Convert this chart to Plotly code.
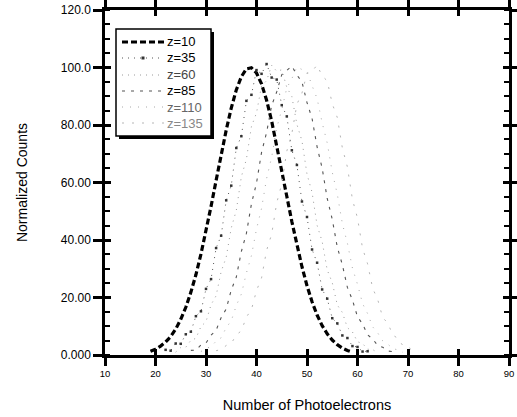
import plotly.graph_objects as go

# ---------------- data ----------------
series_names = ["z=10", "z=35", "z=60", "z=85", "z=110", "z=135"]

x_z10 = list(range(19, 60))
y_z10 = [1.3, 2.0, 3.1, 4.5, 6.4, 9.0, 12.4, 16.6, 21.8, 27.9, 35.1, 43.0, 51.7, 60.7, 69.6,
         78.2, 85.9, 92.2, 96.8, 99.5, 99.9, 98.1, 94.3, 88.6, 81.4, 73.1, 64.3, 55.2, 46.4,
         38.2, 30.7, 24.1, 18.5, 13.9, 10.2, 7.4, 5.2, 3.6, 2.4, 1.6, 1.0]

x_z35 = list(range(22, 63))
y_z35 = [1.8, 1.5, 4.0, 3.9, 7.2, 8.1, 13.5, 15.2, 23.0, 26.4, 37.2, 41.5, 53.8, 58.9, 72.0,
         76.1, 88.4, 90.5, 99.1, 97.8, 101.2, 96.5, 95.8, 86.9, 83.0, 71.2, 66.1, 53.4, 48.0,
         36.7, 32.1, 22.8, 19.6, 12.8, 11.0, 6.8, 5.9, 3.1, 2.8, 1.2, 1.3]

x_z60 = list(range(24, 65))
y_z60 = [1.0, 2.6, 2.7, 5.1, 5.8, 9.9, 11.6, 17.5, 20.6, 29.0, 34.0, 44.2, 50.3, 62.0, 68.1,
         79.5, 84.2, 93.6, 95.4, 100.8, 98.7, 99.2, 93.1, 89.9, 80.2, 74.5, 62.9, 56.6, 45.1,
         39.5, 29.6, 25.2, 17.4, 14.8, 9.5, 8.0, 4.6, 4.0, 2.0, 1.9, 0.8]

x_z85 = list(range(27, 68))
y_z85 = [1.6, 1.7, 3.5, 4.2, 6.9, 8.6, 13.0, 16.0, 22.6, 27.1, 36.0, 42.3, 52.6, 59.8, 70.5,
         77.4, 86.8, 91.5, 97.5, 98.9, 100.5, 97.4, 95.0, 87.8, 82.3, 72.4, 65.0, 54.5, 47.2,
         37.5, 31.4, 23.5, 19.1, 13.3, 10.8, 7.0, 5.6, 3.3, 2.7, 1.4, 1.2]

x_z110 = list(range(29, 70))
y_z110 = [1.2, 2.3, 2.9, 4.8, 6.0, 9.5, 11.9, 17.2, 21.2, 28.5, 34.6, 43.8, 51.0, 61.4, 68.8,
          79.0, 85.3, 92.9, 96.1, 100.2, 99.3, 98.6, 93.7, 89.2, 80.8, 73.8, 63.6, 55.9, 45.7,
          38.9, 30.2, 24.6, 17.9, 14.4, 9.8, 7.7, 4.9, 3.8, 2.2, 1.8, 0.9]

x_z135 = list(range(32, 73))
y_z135 = [1.5, 1.9, 3.3, 4.0, 7.0, 8.4, 13.2, 15.8, 22.4, 26.8, 36.4, 42.0, 52.9, 59.5, 70.9,
          77.0, 87.2, 91.1, 98.0, 98.6, 100.9, 97.0, 95.4, 87.4, 82.6, 72.0, 65.4, 54.1, 47.6,
          37.1, 31.7, 23.2, 19.3, 13.0, 11.1, 6.9, 5.8, 3.2, 2.9, 1.3, 1.4]

x_ticks = [10, 20, 30, 40, 50, 60, 70, 80, 90]
y_ticks = [0, 20, 40, 60, 80, 100, 120]
y_tick_labels = ["0.000", "20.00", "40.00", "60.00", "80.00", "100.0", "120.0"]

# ---------------- styles ----------------
styles = [
    dict(line=dict(color="black", width=3.2, dash="6px,3px"), mode="lines", marker=None),
    dict(line=dict(color="#555555", width=1, dash="1px,5px"), mode="lines+markers",
         marker=dict(color="#333333", size=2.5, symbol="square")),
    dict(line=dict(color="#9a9a9a", width=1, dash="1px,5px"), mode="lines", marker=None),
    dict(line=dict(color="#555555", width=1.1, dash="3px,6px"), mode="lines", marker=None),
    dict(line=dict(color="#a8a8a8", width=1, dash="1px,7px"), mode="lines", marker=None),
    dict(line=dict(color="#b5b5b5", width=1, dash="2px,8px"), mode="lines", marker=None),
]
text_colors = ["black", "black", "#444444", "black", "#666666", "#888888"]

xs = [x_z10, x_z35, x_z60, x_z85, x_z110, x_z135]
ys = [y_z10, y_z35, y_z60, y_z85, y_z110, y_z135]

fig = go.Figure()
for name, xv, yv, st in zip(series_names, xs, ys, styles):
    kw = dict(x=xv, y=yv, name=name, mode=st["mode"], line=st["line"], showlegend=False)
    if st["marker"] is not None:
        kw["marker"] = st["marker"]
    fig.add_trace(go.Scatter(**kw))

# invisible trace to activate the overlay axes (inward half of crossing ticks)
fig.add_trace(go.Scatter(x=[x_ticks[0]], y=[y_ticks[0]], xaxis="x2", yaxis="y2",
                         mode="markers", marker=dict(opacity=0), showlegend=False,
                         hoverinfo="skip"))

# ---------------- hand-built legend box (paper coords) ----------------
PX0, PW, PY1, PH = 105.0, 404.0, 355.0, 345.0
def px(x):
    return (x - PX0) / PW
def py(y):
    return (PY1 - y) / PH

shapes = []
box = (116, 29, 211, 136)
# drop shadow
shapes.append(dict(type="rect", xref="paper", yref="paper",
                   x0=px(box[0] + 3), x1=px(box[2] + 3), y0=py(box[3] + 3), y1=py(box[1] + 3),
                   fillcolor="black", line=dict(width=0), layer="above"))
shapes.append(dict(type="rect", xref="paper", yref="paper",
                   x0=px(box[0]), x1=px(box[2]), y0=py(box[3]), y1=py(box[1]),
                   fillcolor="white", line=dict(color="black", width=1.5), layer="above"))
row_y = [42, 58, 75, 91, 107, 123]
annotations = []
for i, (name, st, yy) in enumerate(zip(series_names, styles, row_y)):
    ln = dict(st["line"])
    shapes.append(dict(type="line", xref="paper", yref="paper",
                       x0=px(122), x1=px(164), y0=py(yy), y1=py(yy),
                       line=ln, layer="above"))
    if st["marker"] is not None:
        shapes.append(dict(type="rect", xref="paper", yref="paper",
                           x0=px(141.5), x1=px(144.5), y0=py(yy + 1.5), y1=py(yy - 1.5),
                           fillcolor="#333333", line=dict(width=0), layer="above"))
    annotations.append(dict(xref="paper", yref="paper", x=px(165), y=py(yy),
                            xanchor="left", yanchor="middle", showarrow=False,
                            text=name,
                            font=dict(family="Liberation Sans, Arial, sans-serif", size=13,
                                      color=text_colors[i])))

fig.update_layout(
    width=517, height=417,
    margin=dict(l=105, r=8, t=10, b=62),
    paper_bgcolor="white", plot_bgcolor="white",
    font=dict(family="Liberation Sans, Arial, sans-serif", color="black"),
    showlegend=False,
    shapes=shapes,
    annotations=annotations,
    xaxis=dict(
        range=[10, 90], tickvals=x_ticks, ticktext=[str(v) for v in x_ticks],
        automargin=False,
        showgrid=False, zeroline=False, showline=True, linecolor="black", linewidth=2.5,
        mirror="ticks", ticks="outside", ticklen=8, tickwidth=2.5, tickcolor="black",
        ticklabelstandoff=0,
        tickfont=dict(family="Liberation Sans, Arial, sans-serif", size=9.5, color="black"),
        title=dict(text="Number of Photoelectrons", standoff=22,
                   font=dict(family="Liberation Sans, Arial, sans-serif", size=14.5)),
    ),
    yaxis=dict(
        range=[0, 120], tickvals=y_ticks, ticktext=y_tick_labels,
        automargin=False,
        showgrid=False, zeroline=False, showline=True, linecolor="black", linewidth=2.5,
        mirror="ticks", ticks="outside", ticklen=9, tickwidth=2.5, tickcolor="black",
        tickfont=dict(family="Liberation Sans, Arial, sans-serif", size=12, color="black"),
        minor=dict(dtick=5, ticks="inside", ticklen=5, tickwidth=2, tickcolor="black"),
        title=dict(text="Normalized Counts", standoff=30,
                   font=dict(family="Liberation Sans, Arial, sans-serif", size=14)),
    ),
    xaxis2=dict(
        overlaying="x", range=[10, 90], tickvals=x_ticks, showticklabels=False,
        automargin=False,
        showgrid=False, zeroline=False, showline=False,
        mirror="ticks", ticks="inside", ticklen=6, tickwidth=2.5, tickcolor="black",
    ),
    yaxis2=dict(
        overlaying="y", range=[0, 120], tickvals=y_ticks, showticklabels=False,
        automargin=False,
        showgrid=False, zeroline=False, showline=False,
        mirror="ticks", ticks="inside", ticklen=6, tickwidth=2.5, tickcolor="black",
    ),
)

fig.write_html("out.html",
               config={"displayModeBar": False},
               post_script="document.body.style.margin='0px';document.body.style.padding='0px';")
